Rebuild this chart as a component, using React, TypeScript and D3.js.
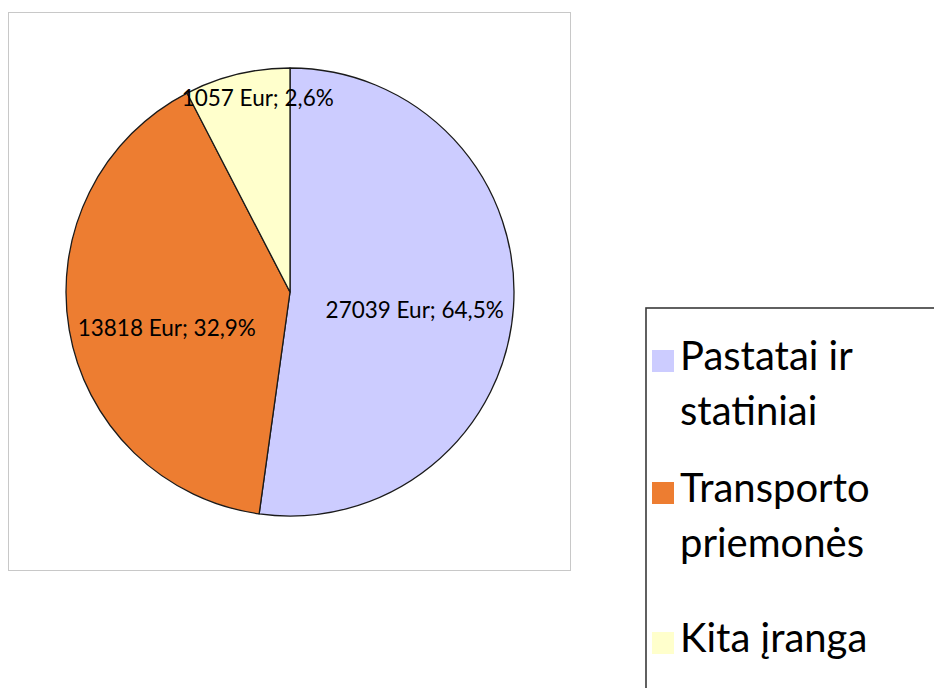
import React, { useEffect, useRef } from "react";
import * as d3 from "d3";

// categories as shown in the legend (wrapped the same way)
const categories = ["Pastatai ir statiniai", "Transporto priemonės", "Kita įranga"];
const legendLines = [["Pastatai ir", "statiniai"], ["Transporto", "priemonės"], ["Kita įranga"]];
// values printed on the labels
const amounts = [27039, 13818, 1057];
const percents = ["64,5%", "32,9%", "2,6%"];
// share of the circle each slice takes in the picture (the drawing doesn't follow the labels)
const drawnShares = [52.2, 40.2, 7.6];
const colors = ["#ccccff", "#ed7d31", "#ffffcc"];

const W = 934;
const H = 688;

const App = () => {
  const svgRef = useRef<SVGSVGElement>(null);

  useEffect(() => {
    const svg = d3.select(svgRef.current);
    svg.selectAll("*").remove();

    const font = "Lato, 'Open Sans', sans-serif";

    // chart area frame
    svg
      .append("rect")
      .attr("x", 8.5)
      .attr("y", 12.5)
      .attr("width", 562)
      .attr("height", 558)
      .attr("fill", "#fff")
      .attr("stroke", "#c8c8c8")
      .attr("stroke-width", 1);

    const cx = 290;
    const cy = 292;
    const r = 224;

    const pie = d3
      .pie<number>()
      .sort(null)
      .value((d) => d);
    const arcs = pie(drawnShares);
    const arc = d3.arc<d3.PieArcDatum<number>>().innerRadius(0).outerRadius(r);

    const g = svg.append("g").attr("transform", `translate(${cx},${cy})`);

    g.selectAll("path.slice")
      .data(arcs)
      .join("path")
      .attr("class", "slice")
      .attr("d", arc)
      .attr("fill", (d, i) => colors[i])
      .attr("stroke", "#1a1a1a")
      .attr("stroke-width", 1.3)
      .attr("stroke-linejoin", "round");

    // data labels, placed roughly where excel put them ("best fit")
    const labelRadius = [125, 125, 200];
    const labelNudge = [
      [0, 9],
      [0, 14],
      [15, 0],
    ];
    const labelPos = (d: d3.PieArcDatum<number>, i: number) =>
      d3
        .arc<d3.PieArcDatum<number>>()
        .innerRadius(labelRadius[i])
        .outerRadius(labelRadius[i])
        .centroid(d);

    g.selectAll("text.lbl")
      .data(arcs)
      .join("text")
      .attr("class", "lbl")
      .attr("x", (d, i) => labelPos(d, i)[0] + labelNudge[i][0])
      .attr("y", (d, i) => labelPos(d, i)[1] + labelNudge[i][1])
      .attr("text-anchor", "middle")
      .attr("dominant-baseline", "central")
      .attr("font-family", font)
      .attr("font-size", 22.5)
      .attr("fill", "#000")
      .text((d, i) => `${amounts[i]} Eur; ${percents[i]}`);

    // legend
    const legend = svg.append("g");
    legend
      .append("rect")
      .attr("x", 646)
      .attr("y", 308)
      .attr("width", 300)
      .attr("height", 400)
      .attr("fill", "#fff")
      .attr("stroke", "#3a3a3a")
      .attr("stroke-width", 1.6);

    const baselines = [370, 502, 652];
    const lineGap = 55;
    categories.forEach((c, i) => {
      legend
        .append("rect")
        .attr("x", 652)
        .attr("y", baselines[i] - 20)
        .attr("width", 22)
        .attr("height", 22)
        .attr("fill", colors[i]);
      const t = legend
        .append("text")
        .attr("font-family", font)
        .attr("font-size", 40)
        .attr("fill", "#000");
      legendLines[i].forEach((ln, j) => {
        t.append("tspan")
          .attr("x", 680)
          .attr("y", baselines[i] + j * lineGap)
          .text(ln);
      });
    });
  }, []);

  return (
    <svg
      ref={svgRef}
      width={W}
      height={H}
      style={{ position: "absolute", left: 0, top: 0, background: "#fff" }}
    />
  );
};

export default App;
